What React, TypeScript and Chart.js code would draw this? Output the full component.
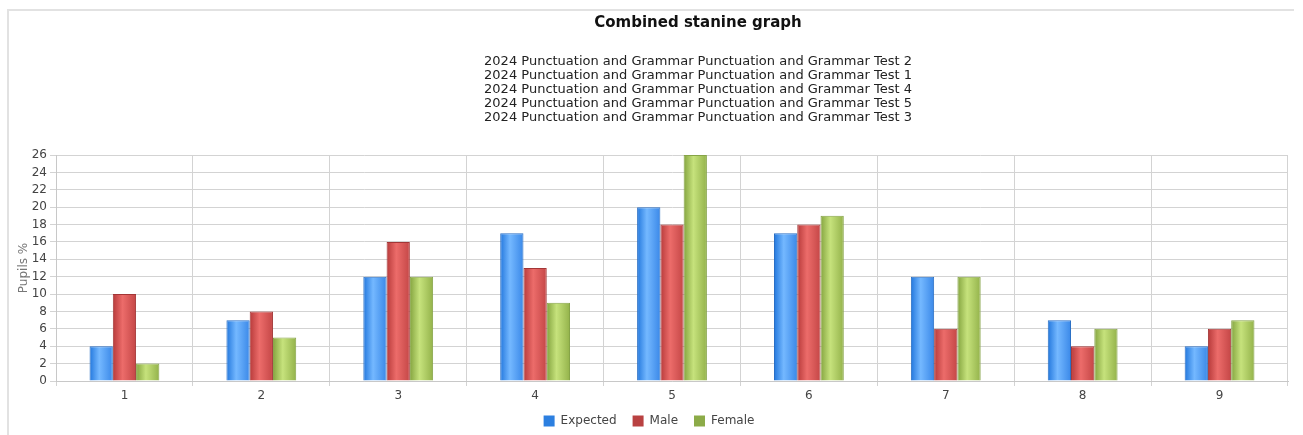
import React, { useEffect, useRef } from "react";
import { Chart, registerables } from "chart.js";

Chart.register(...registerables);

const TITLE = "Combined stanine graph";
const SUBTITLE_LINES = [
  "2024 Punctuation and Grammar Punctuation and Grammar Test 2",
  "2024 Punctuation and Grammar Punctuation and Grammar Test 1",
  "2024 Punctuation and Grammar Punctuation and Grammar Test 4",
  "2024 Punctuation and Grammar Punctuation and Grammar Test 5",
  "2024 Punctuation and Grammar Punctuation and Grammar Test 3",
];
const CATEGORIES = ["1", "2", "3", "4", "5", "6", "7", "8", "9"];
const EXPECTED = [4, 7, 12, 17, 20, 17, 12, 7, 4];
const MALE = [10, 8, 16, 13, 18, 18, 6, 4, 6];
const FEMALE = [2, 5, 12, 9, 26, 19, 12, 6, 7];
const SERIES_NAMES = ["Expected", "Male", "Female"];
const Y_MIN = 0;
const Y_MAX = 26;
const Y_STEP = 2;
const Y_TITLE = "Pupils %";

const FONT = "'DejaVu Sans', Verdana, sans-serif";
const CAT_PCT = 0.51;

const PALETTE = [
  { dark: "#2277dd", light: "#74b8ff", mid: "#3a88e8", border: "#2a6fc4", legend: "#2c7fe0" },
  { dark: "#b73a3a", light: "#ec6c6a", mid: "#c44646", border: "#a33636", legend: "#b94141" },
  { dark: "#84a43f", light: "#c6e27c", mid: "#93b24a", border: "#86a447", legend: "#8cab48" },
];

function gradientFor(dsIndex: number) {
  return (ctx: any) => {
    const chart = ctx.chart;
    const xs = chart.scales && chart.scales.x;
    const c = PALETTE[dsIndex];
    if (!xs || !chart.chartArea || ctx.type !== "data") return c.legend;
    const center = xs.getPixelForValue(ctx.dataIndex);
    const catW = xs.width / CATEGORIES.length;
    const barW = (catW * CAT_PCT) / 3;
    const left = center + (dsIndex - 1.5) * barW;
    const g = chart.ctx.createLinearGradient(left, 0, left + barW, 0);
    g.addColorStop(0, c.dark);
    g.addColorStop(0.42, c.light);
    g.addColorStop(1, c.mid);
    return g;
  };
}

const headerPlugin = {
  id: "header",
  afterDraw(chart: any) {
    const ctx = chart.ctx;
    ctx.save();
    ctx.textAlign = "center";
    ctx.textBaseline = "middle";
    ctx.fillStyle = "#111";
    ctx.font = `bold 15px ${FONT}`;
    ctx.fillText(TITLE, 698, 23);
    ctx.font = `13px ${FONT}`;
    ctx.fillStyle = "#222";
    SUBTITLE_LINES.forEach((line, i) => {
      ctx.fillText(line, 698, 61.5 + i * 14);
    });
    ctx.restore();
  },
};

export default function App() {
  const ref = useRef<HTMLCanvasElement>(null);
  useEffect(() => {
    if (!ref.current) return;
    const series = [EXPECTED, MALE, FEMALE];
    const chart = new Chart(ref.current, {
      type: "bar",
      data: {
        labels: CATEGORIES,
        datasets: series.map((d, i) => ({
          label: SERIES_NAMES[i],
          data: d,
          backgroundColor: gradientFor(i),
          borderColor: PALETTE[i].border,
          borderWidth: 1,
          borderSkipped: "bottom",
          barPercentage: 1,
          categoryPercentage: CAT_PCT,
        })),
      },
      options: {
        animation: false,
        responsive: false,
        devicePixelRatio: 1,
        layout: { padding: { left: 10, right: 15, top: 155, bottom: 0 } },
        plugins: {
          title: { display: false },
          tooltip: { enabled: false },
          legend: {
            position: "bottom",
            labels: {
              boxWidth: 11,
              boxHeight: 11,
              padding: 16,
              color: "#444",
              font: { family: FONT, size: 12 },
              generateLabels: () =>
                SERIES_NAMES.map((n, i) => ({
                  text: n,
                  fillStyle: PALETTE[i].legend,
                  strokeStyle: PALETTE[i].legend,
                  lineWidth: 0,
                  datasetIndex: i,
                  hidden: false,
                  fontColor: "#444",
                })),
            },
          },
        },
        scales: {
          x: {
            offset: true,
            grid: {
              offset: true,
              color: "#d3d3d3",
              lineWidth: 1,
              tickLength: 5,
              drawTicks: true,
            },
            border: { color: "#c8c8c8" },
            ticks: {
              color: "#444",
              padding: 3,
              font: { family: FONT, size: 12 },
            },
            afterFit: (s: any) => {
              s.height = 18;
            },
          },
          y: {
            min: Y_MIN,
            max: Y_MAX,
            grid: { color: "#d3d3d3", lineWidth: 1, tickLength: 6 },
            border: { color: "#c8c8c8" },
            ticks: {
              stepSize: Y_STEP,
              autoSkip: false,
              color: "#444",
              padding: 3,
              font: { family: FONT, size: 12 },
            },
            title: {
              display: true,
              text: Y_TITLE,
              color: "#777",
              padding: { top: 7, bottom: 0 },
              font: { family: FONT, size: 12 },
            },
            afterFit: (s: any) => {
              s.width = 46;
            },
          },
        },
      },
      plugins: [headerPlugin],
    });
    return () => chart.destroy();
  }, []);

  return (
    <div style={{ position: "fixed", left: 0, top: 0, width: 1303, height: 435, background: "#fff", overflow: "hidden" }}>
      <div
        style={{
          position: "absolute",
          left: 7,
          top: 9,
          width: 1285,
          height: 500,
          borderTop: "2px solid #e2e2e2",
          borderLeft: "2px solid #e2e2e2",
        }}
      />
      <canvas ref={ref} width={1303} height={437} style={{ position: "absolute", left: 0, top: 0, display: "block" }} />
    </div>
  );
}
